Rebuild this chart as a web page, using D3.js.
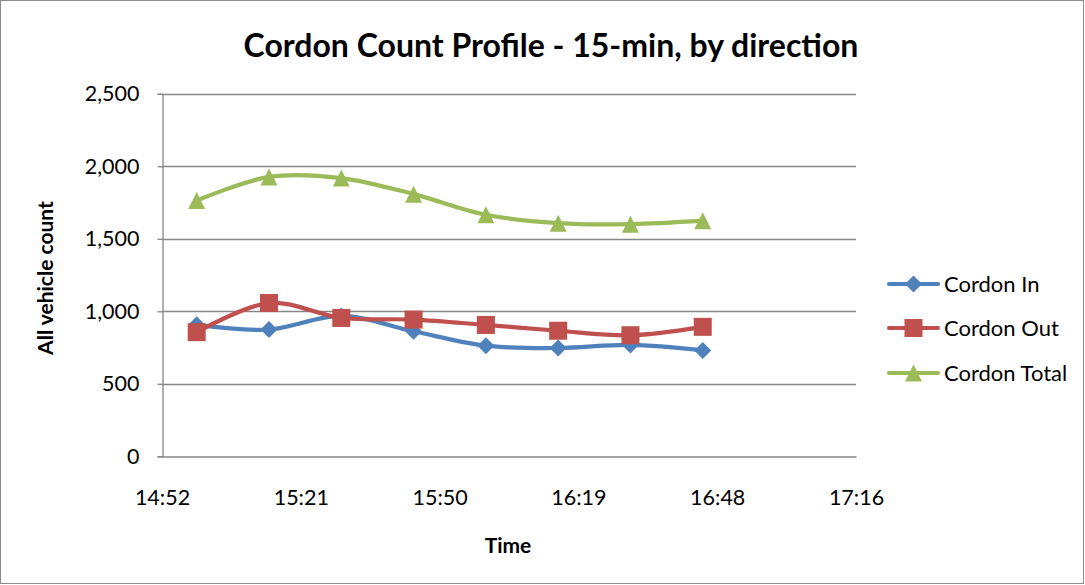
<!DOCTYPE html>
<html><head><meta charset="utf-8">
<script src="https://cdn.jsdelivr.net/npm/d3@7"></script>
<style>body{margin:0;background:#fff}svg{display:block}text{font-family:Lato,"Open Sans",sans-serif;fill:#000}</style>
</head><body><svg id="c" width="1085" height="585"></svg>
<script>
const times = ["15:00","15:15","15:30","15:45","16:00","16:15","16:30","16:45"];
const cordonIn = [908, 874, 968, 862, 763, 747, 768, 730];
const cordonOut = [856, 1057, 954, 943, 906, 866, 835, 893];
const cordonTotal = [1764, 1927, 1919, 1808, 1666, 1608, 1601, 1625];
const xTickLabels = ["14:52","15:21","15:50","16:19","16:48","17:16"];
const yTicks = [0, 500, 1000, 1500, 2000, 2500];
const seriesNames = ["Cordon In","Cordon Out","Cordon Total"];
const colors = ["#4F81BD","#C0504D","#9BBB59"];

const toMin = s => { const [h,m] = s.split(":").map(Number); return h*60+m; };
const xMin = 0.62*1440, xMax = 0.72*1440; // Excel day fractions in minutes
const svg = d3.select("#c");
svg.append("rect").attr("x",0.5).attr("y",0.5).attr("width",1083).attr("height",583)
  .attr("fill","#fff").attr("stroke","#8c8c8c");

const L=162, R=856, T=93.8, B=456.3;
const x = d3.scaleLinear().domain([xMin,xMax]).range([L,R]);
const y = d3.scaleLinear().domain([0,2500]).range([B,T]);

// gridlines
svg.append("g").selectAll("line").data(yTicks.slice(1)).join("line")
  .attr("x1",L).attr("x2",R).attr("y1",d=>Math.round(y(d))+0.5).attr("y2",d=>Math.round(y(d))+0.5)
  .attr("stroke","#868686").attr("stroke-width",1.3);

// y axis
const yAx = svg.append("g").attr("transform",`translate(${L+0.5},0)`)
  .call(d3.axisLeft(y).tickValues(yTicks).tickSize(5).tickPadding(18).tickFormat(d3.format(",")));
yAx.select(".domain").attr("stroke","#868686").attr("stroke-width",1.3);
yAx.selectAll(".tick line").attr("stroke","#868686").attr("stroke-width",1.3);
yAx.selectAll(".tick text").attr("font-size",21.5).attr("font-family","Lato").attr("fill","#000");

// x axis
const xTickVals = d3.range(6).map(i => (0.62+0.02*i)*1440);
const xAx = svg.append("g").attr("transform",`translate(0,${Math.round(B)+0.5})`)
  .call(d3.axisBottom(x).tickValues(xTickVals).tickSize(0).tickPadding(33).tickFormat((d,i)=>xTickLabels[i]));
xAx.select(".domain").attr("stroke","#868686").attr("stroke-width",1.3);
xAx.selectAll(".tick text").attr("font-size",21.5).attr("font-family","Lato").attr("fill","#000");

// titles
svg.append("text").attr("x",551).attr("y",57).attr("text-anchor","middle")
  .attr("font-size",32).attr("font-weight","bold").text("Cordon Count Profile - 15-min, by direction");
svg.append("text").attr("x",508).attr("y",553).attr("text-anchor","middle")
  .attr("font-size",21).attr("font-weight","bold").text("Time");
svg.append("text").attr("transform","translate(53,278) rotate(-90)").attr("text-anchor","middle")
  .attr("font-size",21).attr("font-weight","bold").text("All vehicle count");

const data = [cordonIn, cordonOut, cordonTotal];
const line = d3.line().x(d=>x(d[0])).y(d=>y(d[1])).curve(d3.curveCardinal.tension(0));

function marker(g, i, cx, cy){
  if(i===0){
    const s=8.5;
    g.append("path").attr("d",`M${cx},${cy-s}L${cx+s},${cy}L${cx},${cy+s}L${cx-s},${cy}Z`).attr("fill",colors[i]);
  } else if(i===1){
    const s=9;
    g.append("rect").attr("x",cx-s).attr("y",cy-s).attr("width",2*s).attr("height",2*s).attr("fill",colors[i]);
  } else {
    const s=8.5;
    g.append("path").attr("d",`M${cx},${cy-s}L${cx+s},${cy+s}L${cx-s},${cy+s}Z`).attr("fill",colors[i]);
  }
}

data.forEach((vals,i)=>{
  const pts = times.map((t,j)=>[toMin(t), vals[j]]);
  const g = svg.append("g");
  g.append("path").attr("d",line(pts)).attr("fill","none").attr("stroke",colors[i]).attr("stroke-width",4.2)
    .attr("stroke-linejoin","round").attr("stroke-linecap","round");
  pts.forEach(p=>marker(g,i,x(p[0]),y(p[1])));
});

// legend
const legY = [284, 328, 373];
seriesNames.forEach((n,i)=>{
  const g = svg.append("g");
  g.append("line").attr("x1",889).attr("x2",938).attr("y1",legY[i]).attr("y2",legY[i])
    .attr("stroke",colors[i]).attr("stroke-width",4.2).attr("stroke-linecap","round");
  marker(g,i,913.5,legY[i]);
  g.append("text").attr("x",944).attr("y",legY[i]+7.5).attr("font-size",22).text(n);
});
</script></body></html>
